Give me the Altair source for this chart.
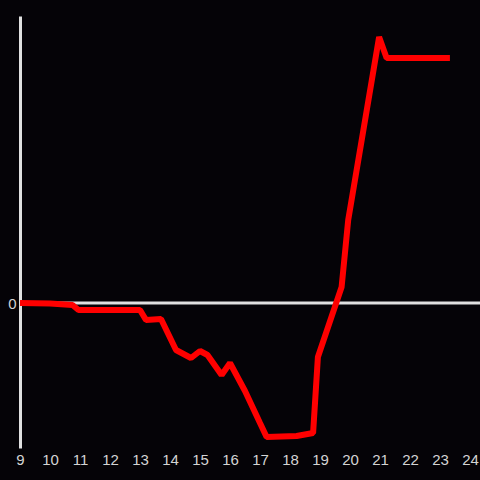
import altair as alt
import pandas as pd

hours = [9, 10, 10.75, 10.95, 13.0, 13.2, 13.7, 14.2, 14.7, 15.0, 15.25, 15.72, 16.0,
         16.5, 17.0, 17.22, 18.22, 18.77, 18.93, 19.72, 19.94, 20.97, 21.22, 23.33]
values = [0, -0.5, -2, -7, -7, -17, -16, -47, -55, -48, -52, -72, -60,
          -88, -120, -134, -133, -130, -54, 16, 83, 266, 245, 245]
tick_vals = list(range(9, 25))

df = pd.DataFrame({"t": hours, "v": values})

xs = alt.Scale(domain=[9, 24.333], nice=False, zero=False)
ys = alt.Scale(domain=[-145, 287], nice=False, zero=False)

zero_rule = alt.Chart().mark_rule(color="#e0e0e0", strokeWidth=3).encode(
    y=alt.datum(0, scale=ys)
)

line = alt.Chart(df).mark_line(color="#ff0000", strokeWidth=6, strokeJoin="bevel").encode(
    x=alt.X("t:Q", scale=xs,
            axis=alt.Axis(values=tick_vals, title=None, domain=False, ticks=False, grid=False,
                          labelColor="#d4d4d4", labelFontSize=15, labelFont="Liberation Sans",
                          labelPadding=4, labelFlush=False, format="d")),
    y=alt.Y("v:Q", scale=ys,
            axis=alt.Axis(values=[0], title=None, domain=True, domainColor="#e0e0e0",
                          domainWidth=3, ticks=False, grid=False,
                          labelColor="#d4d4d4", labelFontSize=15, labelFont="Liberation Sans",
                          labelPadding=4, format="d")),
)

chart = alt.layer(zero_rule, line).properties(
    width=460, height=432,
    padding={"left": 20, "top": 16, "right": 0, "bottom": 32},
    autosize=alt.AutoSizeParams(type="none"),
    background="#050307",
).configure_view(stroke=None)

chart.save("out.html", embed_options={
    "renderer": "svg", "actions": False,
    "defaultStyle": "html,body{margin:0;padding:0;background:#050307;overflow:hidden}",
})
